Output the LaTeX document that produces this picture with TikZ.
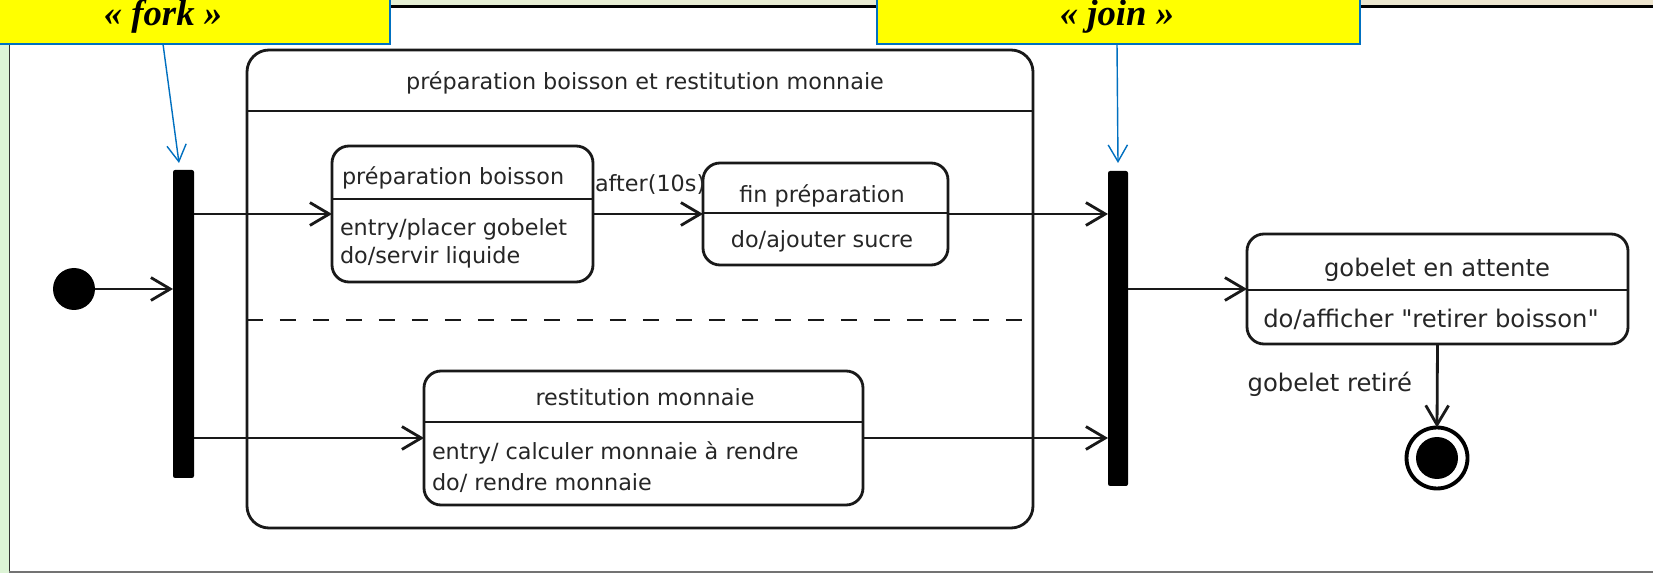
\documentclass[tikz,border=0pt]{standalone}
\usepackage{fontspec}
\setmainfont{DejaVu Sans}[Ligatures=TeXOff]
\newfontfamily\calloutfont{Liberation Serif}
\usetikzlibrary{arrows.meta,fit,calc}
\definecolor{calloutblue}{RGB}{0,112,192}
\definecolor{calloutyellow}{RGB}{255,255,0}
\definecolor{leftgreen}{RGB}{221,244,214}
\definecolor{topgreen}{RGB}{226,242,214}
\definecolor{topbeige}{RGB}{237,228,206}

\begin{document}
\begin{tikzpicture}[x=0.02cm,y=-0.02cm,
  every node/.style={inner sep=0pt, outer sep=0pt},
  lbl/.style={font=\fontsize{12.7}{15}\selectfont, text=black!85},
  biglbl/.style={font=\fontsize{13.8}{16}\selectfont, text=black!85},
  statebox/.style={draw=black!90, line width=1.6pt, rounded corners=0.34cm},
  sep/.style={draw=black!90, line width=1.6pt},
  conn/.style={draw=black!90, line width=1.6pt, -{Straight Barb[length=11pt,width=13pt]}},
  bar/.style={fill=black, rounded corners=1.2pt},
  callout/.style={fill=calloutyellow, draw=calloutblue, line width=1.1pt},
  callarrow/.style={draw=calloutblue, line width=0.8pt, -{Straight Barb[length=9.5pt,width=11pt]}},
  callouttext/.style={font=\calloutfont\bfseries\itshape\fontsize{20.9}{24}\selectfont}
]
\useasboundingbox (0,0) rectangle (1653,573);

% window frame
\fill[white] (0,0) rectangle (1653,573);
\shade[left color=topgreen, right color=topbeige] (0,0) rectangle (1653,6);
\fill[leftgreen] (0,0) rectangle (9,573);
\draw[black, line width=1.2pt] (9,6.5) -- (1653,6.5);
\draw[black!80, line width=0.9pt] (9.5,6) -- (9.5,573);
\draw[black!55, line width=0.9pt] (9,572) -- (1653,572);

% composite state with its two regions
\node[fit={(247,50)(1033,528)}, statebox, rounded corners=0.44cm] (comp) {};
\coordinate (hdr) at (0,111);
\coordinate (dsh) at (0,320);
\draw[sep] (comp.west |- hdr) -- (comp.east |- hdr);
\draw[sep, dash pattern=on 0.32cm off 0.34cm] (comp.west |- dsh) -- (comp.east |- dsh);
\node[lbl, anchor=base] (comptitle) at (645,90) {préparation boisson et restitution monnaie};

% preparation boisson
\node[fit={(332,146)(593,282)}, statebox] (prep) {};
\coordinate (prepsep) at (0,199);
\draw[sep] (prep.west |- prepsep) -- (prep.east |- prepsep);
\node[lbl, anchor=base west] (preptitle) at (342,185) {préparation boisson};
\node[lbl, anchor=base west] (prepentry) at (340,236) {entry/placer gobelet};
\node[lbl, anchor=base west] (prepdo) at (340,264) {do/servir liquide};

% fin preparation
\node[fit={(703,163)(948,265)}, statebox] (fin) {};
\coordinate (finsep) at (0,213);
\draw[sep] (fin.west |- finsep) -- (fin.east |- finsep);
\node[lbl, anchor=base] (fintitle) at (822,203) {fin préparation};
\node[lbl, anchor=base] (findo) at (822,248) {do/ajouter sucre};

% restitution monnaie
\node[fit={(424,371)(863,505)}, statebox] (rest) {};
\coordinate (restsep) at (0,422);
\draw[sep] (rest.west |- restsep) -- (rest.east |- restsep);
\node[lbl, anchor=base] (resttitle) at (645,406) {restitution monnaie};
\node[lbl, anchor=base west] (restentry) at (432,460) {entry/ calculer monnaie à rendre};
\node[lbl, anchor=base west] (restdo) at (432,491) {do/ rendre monnaie};

% gobelet en attente
\node[fit={(1247,234)(1628,344)}, statebox] (gob) {};
\coordinate (gobsep) at (0,290);
\draw[sep] (gob.west |- gobsep) -- (gob.east |- gobsep);
\node[biglbl, anchor=base] (gobtitle) at (1437,277) {gobelet en attente};
\node[biglbl, anchor=base] (gobdo) at (1431,328) {do/afficher "retirer boisson"};

% pseudo-states
\node[circle, fill=black, minimum size=0.84cm] (init) at (74,289) {};
\node[fit={(173,170)(194,478)}, bar] (fork) {};
\node[fit={(1108,171)(1128,486)}, bar] (join) {};
\node[circle, draw=black, line width=2.2pt, minimum size=1.22cm] (final) at (1437,458) {};
\fill[black] (final.center) circle [radius=0.42cm];

% transitions
\draw[conn] (init) -- (init -| fork.west);
\draw[conn] (fork.east |- prep.west) -- (prep.west);
\draw[conn] (prep.east) -- (fin.west);
\node[lbl, anchor=base west] (after) at (595,192) {after(10s)};
\draw[conn] (fin.east) -- (fin.east -| join.west);
\draw[conn] (fork.east |- rest.west) -- (rest.west);
\draw[conn] (rest.east) -- (rest.east -| join.west);
\draw[conn] (join.east |- gob.west) -- (gob.west);
\draw[conn] (gob.south) -- (final.north);
\node[biglbl, anchor=base east] (retire) at (1412,392) {gobelet retiré};

% callouts
\node[fit={(-3,-3)(390,44)}, callout] (forkcall) {};
\node[callouttext, anchor=base] (forktext) at (163,26) {« fork »};
\coordinate (forktip) at (179,163);
\draw[callarrow] (forktext |- forkcall.south) -- (forktip);

\node[fit={(877,-3)(1360,44)}, callout] (joincall) {};
\node[callouttext, anchor=base] (jointext) at (1117,26) {« join »};
\coordinate (jointip) at (1118,163);
\draw[callarrow] (jointext |- joincall.south) -- (jointip);
\end{tikzpicture}
\end{document}
